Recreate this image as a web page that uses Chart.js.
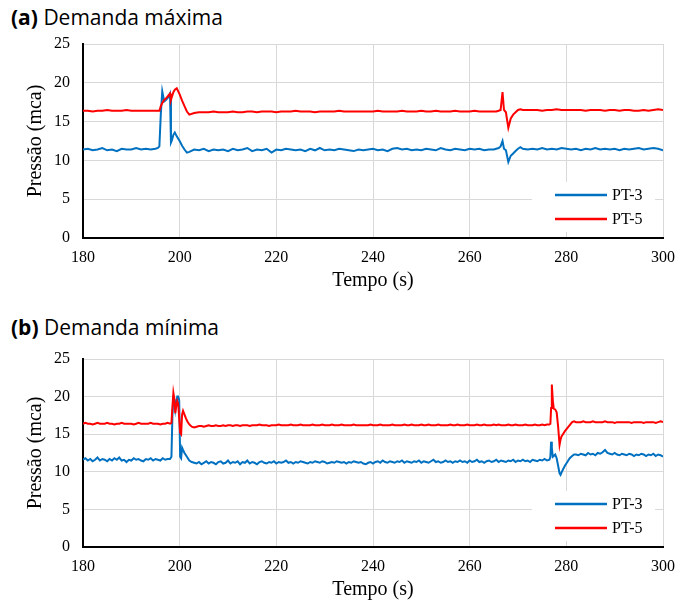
<!DOCTYPE html>
<html lang="pt-BR">
<head>
<meta charset="utf-8">
<script src="https://cdn.jsdelivr.net/npm/chart.js@4.4.1/dist/chart.umd.min.js"></script>
<style>
    html, body {
        margin: 0;
        padding: 0;
        background: #fff;
    }

    body {
        width: 677px;
        height: 605px;
        position: relative;
        overflow: hidden;
    }

    .titulo {
        position: absolute;
        left: 11px;
        font-family: "Open Sans", "Noto Sans", sans-serif;
        font-size: 21px;
        line-height: 24px;
        color: #000;
        white-space: nowrap;
    }

    .titulo b {
        font-weight: 700;
    }

    canvas {
        position: absolute;
        left: 0;
    }
</style>
</head>
<body>

<div class="titulo" style="top: 5px"><b>(a)</b> Demanda máxima</div>
<canvas id="graficoA" width="677" height="270" style="top: 30px"></canvas>

<div class="titulo" style="top: 315px"><b>(b)</b> Demanda mínima</div>
<canvas id="graficoB" width="677" height="264" style="top: 345px"></canvas>

<script>
// dados

const rotulos = ["PT-3", "PT-5"];

const cores = ["#0070c0", "#ff0000"];

// (a) demanda máxima
const tempoA = [
    180, 181, 182, 183, 184, 185, 186, 187, 188, 189,
    190, 191, 192, 193, 194, 195, 195.5, 195.8, 196.1, 196.4,
    196.8, 197.2, 197.6, 198.0, 198.2, 198.4, 198.7, 199.0, 199.4, 200.0,
    200.5, 201.0, 201.5, 202.0, 203, 204, 205, 206, 207, 208,
    209, 210, 211, 212, 213, 214, 215, 216, 217, 218,
    219, 220, 221, 222, 223, 224, 225, 226, 227, 228,
    229, 230, 231, 232, 233, 234, 235, 236, 237, 238,
    239, 240, 241, 242, 243, 244, 245, 246, 247, 248,
    249, 250, 251, 252, 253, 254, 255, 256, 257, 258,
    259, 260, 261, 262, 263, 264, 265, 265.5, 266, 266.4,
    266.8, 267.1, 267.5, 268.0, 268.5, 269, 269.5, 270, 270.5, 271,
    272, 273, 274, 275, 276, 277, 278, 279, 280, 281,
    282, 283, 284, 285, 286, 287, 288, 289, 290, 291,
    292, 293, 294, 295, 296, 297, 298, 299, 300
];

const pt3A = [
    11.4, 11.5, 11.3, 11.4, 11.6, 11.3, 11.4, 11.2, 11.5, 11.4,
    11.4, 11.6, 11.4, 11.5, 11.4, 11.5, 11.6, 11.8, 16.0, 18.9,
    17.6, 17.8, 18.1, 18.6, 12.3, 12.6, 13.3, 13.6, 13.1, 12.5,
    11.9, 11.4, 11.0, 11.1, 11.4, 11.3, 11.5, 11.2, 11.4, 11.3,
    11.4, 11.2, 11.5, 11.3, 11.4, 11.6, 11.2, 11.4, 11.3, 11.5,
    11.0, 11.4, 11.3, 11.5, 11.4, 11.3, 11.4, 11.2, 11.5, 11.3,
    11.6, 11.3, 11.4, 11.3, 11.5, 11.4, 11.3, 11.2, 11.4, 11.3,
    11.4, 11.5, 11.3, 11.4, 11.2, 11.5, 11.6, 11.4, 11.5, 11.3,
    11.4, 11.3, 11.5, 11.4, 11.3, 11.6, 11.4, 11.3, 11.5, 11.4,
    11.3, 11.5, 11.4, 11.5, 11.3, 11.4, 11.4, 11.5, 11.6, 11.8,
    12.5, 11.5, 11.3, 9.8, 10.6, 10.9, 11.2, 11.5, 11.7, 11.5,
    11.4, 11.5, 11.4, 11.6, 11.4, 11.5, 11.4, 11.6, 11.5, 11.4,
    11.5, 11.3, 11.5, 11.4, 11.6, 11.4, 11.5, 11.4, 11.5, 11.3,
    11.5, 11.4, 11.5, 11.6, 11.4, 11.5, 11.6, 11.5, 11.3
];

const pt5A = [
    16.4, 16.4, 16.3, 16.4, 16.4, 16.5, 16.4, 16.4, 16.4, 16.5,
    16.4, 16.4, 16.4, 16.4, 16.4, 16.4, 16.4, 16.4, 17.0, 17.4,
    17.8, 18.0, 18.3, 18.6, 17.8, 18.2, 18.8, 19.1, 19.3, 18.5,
    17.7, 17.0, 16.3, 15.9, 16.1, 16.2, 16.2, 16.2, 16.3, 16.2,
    16.2, 16.2, 16.3, 16.2, 16.2, 16.3, 16.3, 16.2, 16.3, 16.3,
    16.3, 16.2, 16.3, 16.3, 16.3, 16.4, 16.3, 16.3, 16.3, 16.2,
    16.3, 16.3, 16.3, 16.3, 16.4, 16.3, 16.3, 16.3, 16.3, 16.3,
    16.3, 16.3, 16.4, 16.3, 16.3, 16.3, 16.3, 16.4, 16.3, 16.3,
    16.3, 16.4, 16.3, 16.3, 16.4, 16.3, 16.3, 16.3, 16.4, 16.3,
    16.3, 16.3, 16.4, 16.3, 16.3, 16.3, 16.3, 16.3, 16.4, 16.5,
    18.8, 16.5, 16.2, 14.2, 15.4, 15.9, 16.2, 16.5, 16.6, 16.5,
    16.5, 16.5, 16.5, 16.4, 16.5, 16.5, 16.6, 16.5, 16.5, 16.5,
    16.5, 16.5, 16.4, 16.5, 16.5, 16.5, 16.4, 16.5, 16.5, 16.4,
    16.5, 16.5, 16.4, 16.4, 16.5, 16.4, 16.5, 16.6, 16.5
];

// (b) demanda mínima
const tempoB = [
    // antes do transiente
    180, 180.5, 181, 181.5, 182, 182.5, 183, 183.5, 184, 184.5,
    185, 185.5, 186, 186.5, 187, 187.5, 188, 188.5, 189, 189.5,
    190, 190.5, 191, 191.5, 192, 192.5, 193, 193.5, 194, 194.5,
    195, 195.5, 196, 196.5, 197, 197.5, 198,
    // transiente ~199 s
    198.3, 198.5, 198.7, 198.9, 199.1, 199.3, 199.5, 199.7, 199.9, 200.1,
    200.3, 200.5, 200.7, 201.0, 201.3, 201.6, 202.0, 202.5, 203.0,
    // regime
    203.5, 204, 204.5, 205, 205.5, 206, 206.5, 207, 207.5, 208,
    208.5, 209, 209.5, 210, 210.5, 211, 211.5, 212, 212.5, 213,
    213.5, 214, 214.5, 215, 215.5, 216, 216.5, 217, 217.5, 218,
    218.5, 219, 219.5, 220, 220.5, 221, 221.5, 222, 222.5, 223,
    223.5, 224, 224.5, 225, 225.5, 226, 226.5, 227, 227.5, 228,
    228.5, 229, 229.5, 230, 230.5, 231, 231.5, 232, 232.5, 233,
    233.5, 234, 234.5, 235, 235.5, 236, 236.5, 237, 237.5, 238,
    238.5, 239, 239.5, 240, 240.5, 241, 241.5, 242, 242.5, 243,
    243.5, 244, 244.5, 245, 245.5, 246, 246.5, 247, 247.5, 248,
    248.5, 249, 249.5, 250, 250.5, 251, 251.5, 252, 252.5, 253,
    253.5, 254, 254.5, 255, 255.5, 256, 256.5, 257, 257.5, 258,
    258.5, 259, 259.5, 260, 260.5, 261, 261.5, 262, 262.5, 263,
    263.5, 264, 264.5, 265, 265.5, 266, 266.5, 267, 267.5, 268,
    268.5, 269, 269.5, 270, 270.5, 271, 271.5, 272, 272.5, 273,
    273.5, 274, 274.5, 275, 275.5, 276, 276.5,
    // transiente ~277 s
    276.7, 276.85, 277.0, 277.2, 277.4, 277.7, 278.0, 278.3, 278.6, 278.8,
    279.0, 279.3, 279.7, 280.2, 280.7, 281.2, 281.6, 282.0,
    // final
    282.5, 283, 283.5, 284, 284.5, 285, 285.5, 286, 286.5, 287,
    287.5, 288, 288.5, 289, 289.5, 290, 290.5, 291, 291.5, 292,
    292.5, 293, 293.5, 294, 294.5, 295, 295.5, 296, 296.5, 297,
    297.5, 298, 298.5, 299, 299.5, 300
];

const pt3B = [
    11.6, 11.8, 11.5, 11.7, 11.4, 11.6, 11.9, 11.5, 11.7, 11.6,
    11.4, 11.7, 11.5, 11.8, 11.6, 11.9, 11.5, 11.6, 11.3, 11.6,
    11.5, 11.8, 11.6, 11.7, 11.5, 11.4, 11.7, 11.6, 11.8, 11.5,
    11.7, 11.6, 11.5, 11.8, 11.6, 11.7, 11.7,

    12.0, 17.5, 19.8, 19.6, 18.3, 19.2, 20.0, 20.0, 19.5, 12.0,
    11.8, 13.2, 12.9, 12.5, 12.2, 11.9, 11.5, 11.3, 11.2,

    11.1, 11.3, 11.0, 11.2, 11.4, 11.1, 11.3, 11.2, 11.0, 11.3,
    11.4, 11.1, 11.2, 11.5, 11.1, 11.3, 11.2, 11.4, 11.0, 11.3,
    11.2, 11.5, 11.1, 11.3, 11.2, 11.0, 11.3, 11.4, 11.2, 11.1,
    11.3, 11.2, 11.4, 11.1, 11.3, 11.2, 11.3, 11.5, 11.2, 11.3,
    11.1, 11.3, 11.2, 11.4, 11.3, 11.2, 11.1, 11.3, 11.2, 11.4,
    11.3, 11.2, 11.4, 11.3, 11.1, 11.2, 11.3, 11.2, 11.4, 11.3,
    11.2, 11.3, 11.1, 11.3, 11.2, 11.4, 11.3, 11.2, 11.3, 11.1,
    11.0, 11.2, 11.3, 11.1, 11.3, 11.4, 11.2, 11.5, 11.3, 11.2,
    11.4, 11.3, 11.2, 11.4, 11.3, 11.5, 11.2, 11.4, 11.3, 11.2,
    11.4, 11.3, 11.5, 11.2, 11.4, 11.3, 11.2, 11.4, 11.6, 11.3,
    11.4, 11.2, 11.3, 11.5, 11.3, 11.4, 11.2, 11.4, 11.3, 11.5,
    11.3, 11.4, 11.2, 11.5, 11.3, 11.4, 11.6, 11.3, 11.4, 11.2,
    11.4, 11.5, 11.3, 11.4, 11.6, 11.3, 11.5, 11.4, 11.3, 11.5,
    11.4, 11.6, 11.3, 11.5, 11.4, 11.6, 11.4, 11.5, 11.3, 11.6,
    11.5, 11.4, 11.6, 11.5, 11.7, 11.5, 11.6,

    12.0, 14.0, 13.2, 12.0, 12.1, 12.3, 11.8, 10.8, 9.8, 9.6,
    9.9, 10.3, 10.8, 11.3, 11.8, 12.1, 12.3, 12.3,

    12.2, 12.4, 12.3, 12.2, 12.5, 12.3, 12.4, 12.2, 12.5, 12.4,
    12.6, 12.9, 12.5, 12.4, 12.3, 12.5, 12.3, 12.2, 12.4, 12.3,
    12.2, 12.4, 12.3, 12.1, 12.3, 12.2, 12.4, 12.3, 12.1, 12.3,
    12.2, 12.4, 12.1, 12.3, 12.2, 12.0
];

const pt5B = [
    16.4, 16.5, 16.4, 16.4, 16.3, 16.4, 16.5, 16.4, 16.4, 16.4,
    16.5, 16.4, 16.4, 16.3, 16.4, 16.4, 16.5, 16.4, 16.4, 16.4,
    16.4, 16.3, 16.4, 16.5, 16.4, 16.4, 16.4, 16.4, 16.5, 16.4,
    16.4, 16.4, 16.3, 16.4, 16.4, 16.5, 16.4,

    16.5, 18.6, 20.5, 19.7, 17.8, 18.8, 19.4, 19.0, 17.2, 15.2,
    15.0, 17.6, 18.1, 17.6, 17.1, 16.7, 16.3, 16.0, 15.9,

    16.0, 16.1, 16.1, 16.0, 16.1, 16.2, 16.1, 16.1, 16.2, 16.1,
    16.1, 16.2, 16.1, 16.2, 16.2, 16.1, 16.2, 16.2, 16.1, 16.2,
    16.2, 16.2, 16.1, 16.2, 16.2, 16.2, 16.3, 16.2, 16.2, 16.2,
    16.1, 16.2, 16.2, 16.2, 16.3, 16.2, 16.2, 16.2, 16.2, 16.3,
    16.2, 16.2, 16.2, 16.3, 16.2, 16.2, 16.2, 16.2, 16.3, 16.2,
    16.2, 16.2, 16.3, 16.2, 16.2, 16.2, 16.3, 16.2, 16.2, 16.2,
    16.3, 16.2, 16.2, 16.2, 16.2, 16.3, 16.2, 16.2, 16.2, 16.2,
    16.2, 16.2, 16.3, 16.2, 16.2, 16.2, 16.3, 16.2, 16.2, 16.2,
    16.2, 16.3, 16.2, 16.2, 16.2, 16.2, 16.3, 16.2, 16.2, 16.3,
    16.2, 16.2, 16.2, 16.3, 16.2, 16.2, 16.3, 16.2, 16.2, 16.2,
    16.3, 16.2, 16.2, 16.2, 16.2, 16.3, 16.2, 16.2, 16.3, 16.2,
    16.2, 16.2, 16.3, 16.2, 16.2, 16.2, 16.3, 16.2, 16.2, 16.3,
    16.2, 16.2, 16.2, 16.3, 16.2, 16.3, 16.2, 16.2, 16.2, 16.3,
    16.2, 16.2, 16.3, 16.2, 16.2, 16.2, 16.3, 16.2, 16.2, 16.2,
    16.3, 16.2, 16.2, 16.3, 16.2, 16.3, 16.3,

    16.4, 18.5, 21.6, 19.5, 18.4, 18.3, 17.9, 16.0, 13.6, 14.3,
    14.7, 15.0, 15.4, 15.8, 16.2, 16.6, 16.7, 16.6,

    16.6, 16.6, 16.7, 16.6, 16.6, 16.6, 16.7, 16.6, 16.6, 16.6,
    16.6, 16.7, 16.6, 16.6, 16.6, 16.5, 16.6, 16.6, 16.6, 16.6,
    16.6, 16.6, 16.5, 16.6, 16.6, 16.6, 16.6, 16.5, 16.6, 16.6,
    16.6, 16.6, 16.5, 16.6, 16.7, 16.6
];

const ticksTempo = { min: 180, max: 300, passo: 20 };

const ticksPressao = { min: 0, max: 25, passo: 5 };

// ---------------------------------------------------------------

const fonteSerif = "'Liberation Serif', 'Times New Roman', serif";

const corGrade = "#d9d9d9";

let charts = {};

// legenda dentro da área do gráfico, canto inferior direito
const legendaInterna = {

    id: "legendaInterna",

    beforeDatasetsDraw(chart) {

        const { ctx, chartArea } = chart;

        const direita = chartArea.right;

        const base = chartArea.bottom;

        ctx.save();

        ctx.fillStyle = "#fff";

        ctx.fillRect(direita - 131, base - 56, 123, 50);

        ctx.font = "16px " + fonteSerif;

        ctx.textBaseline = "middle";

        ctx.fillStyle = "#000";

        rotulos.forEach((rotulo, i) => {

            const y = base - 43 + i * 24;

            ctx.strokeStyle = cores[i];

            ctx.lineWidth = 2.5;

            ctx.beginPath();

            ctx.moveTo(direita - 108, y);

            ctx.lineTo(direita - 56, y);

            ctx.stroke();

            ctx.fillText(rotulo, direita - 51, y + 1);
        });

        ctx.restore();
    }
};

function montarPontos(tempo, valores) {

    return tempo.map((t, i) => ({
        x: t,
        y: valores[i]
    }));
}

function criarGrafico(idCanvas, tempo, serie3, serie5) {

    const canvas =
        document.getElementById(idCanvas);

    if (!canvas || typeof Chart === "undefined") {
        return null;
    }

    return new Chart(canvas, {

        type: "line",

        data: {

            datasets: [
                {
                    label: rotulos[0],

                    data: montarPontos(tempo, serie3),

                    borderColor: cores[0],

                    borderWidth: 2,

                    pointRadius: 0,

                    tension: 0,

                    order: 1
                },
                {
                    label: rotulos[1],

                    data: montarPontos(tempo, serie5),

                    borderColor: cores[1],

                    borderWidth: 2,

                    pointRadius: 0,

                    tension: 0,

                    order: 0
                }
            ]
        },

        options: {

            responsive: false,

            animation: false,

            events: [],

            layout: {
                padding: { top: 14, right: 14, left: 0, bottom: 0 }
            },

            plugins: {

                legend: { display: false },

                tooltip: { enabled: false }
            },

            scales: {

                x: {

                    type: "linear",

                    min: ticksTempo.min,

                    max: ticksTempo.max,

                    // altura fixa do eixo, sem folga extra nas laterais
                    afterFit: escala => {
                        escala.height = 62;
                        escala.paddingLeft = 0;
                        escala.paddingRight = 0;
                    },

                    ticks: {

                        stepSize: ticksTempo.passo,

                        color: "#000",

                        padding: 10,

                        font: { family: fonteSerif, size: 16 }
                    },

                    grid: {
                        color: corGrade,
                        drawTicks: false
                    },

                    border: {
                        color: "#000",
                        width: 2
                    },

                    title: {

                        display: true,

                        text: "Tempo (s)",

                        color: "#000",

                        padding: { top: 0, bottom: 7 },

                        font: { family: fonteSerif, size: 20 }
                    }
                },

                y: {

                    min: ticksPressao.min,

                    max: ticksPressao.max,

                    afterFit: escala => {
                        escala.width = 83;
                        escala.paddingTop = 0;
                        escala.paddingBottom = 0;
                    },

                    ticks: {

                        stepSize: ticksPressao.passo,

                        color: "#000",

                        padding: 13,

                        font: { family: fonteSerif, size: 16 }
                    },

                    grid: {
                        color: corGrade,
                        drawTicks: false
                    },

                    border: {
                        color: "#000",
                        width: 2
                    },

                    title: {

                        display: true,

                        text: "Pressão (mca)",

                        color: "#000",

                        padding: { top: 24, bottom: 0 },

                        font: { family: fonteSerif, size: 20 }
                    }
                }
            }
        },

        plugins: [legendaInterna]
    });
}

charts.maxima =
    criarGrafico("graficoA", tempoA, pt3A, pt5A);

charts.minima =
    criarGrafico("graficoB", tempoB, pt3B, pt5B);
</script>
</body>
</html>
